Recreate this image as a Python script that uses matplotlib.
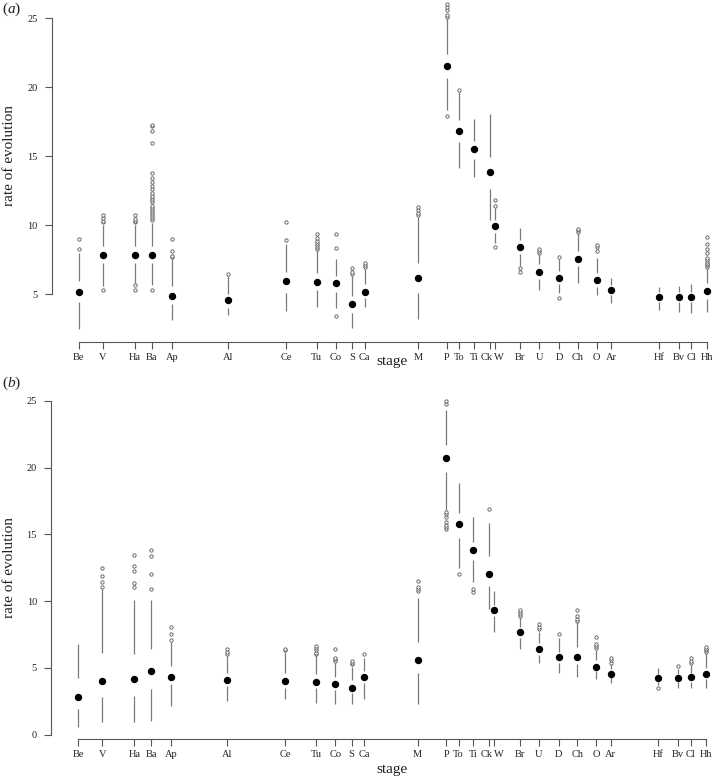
import numpy as np
import matplotlib
matplotlib.use("Agg")
import matplotlib.pyplot as plt
from matplotlib.transforms import ScaledTranslation

plt.rcParams['font.family'] = ['Liberation Serif', 'DejaVu Serif']
plt.rcParams['mathtext.fontset'] = 'custom'
plt.rcParams['mathtext.it'] = 'Liberation Serif:italic'
plt.rcParams['mathtext.rm'] = 'Liberation Serif'

# stages and their position along the time axis (arbitrary units, oldest left)
stages = ["Be", "V", "Ha", "Ba", "Ap", "Al", "Ce", "Tu", "Co", "S", "Ca", "M", "P", "To",
          "Ti", "Ck", "W", "Br", "U", "D", "Ch", "O", "Ar", "Hf", "Bv", "Cl", "Hh"]
stage_pos = [0, 24.3, 56.3, 73, 93.3, 149.3, 207.3, 238, 257.3, 273.6, 286, 339.6, 368.3, 380.6,
             395.3, 411.3, 416, 441.6, 460.6, 480.6, 499.3, 518, 532.6, 580.3, 600.3, 612.6, 628]

# panel (a): whisker low, lower quartile, median, upper quartile, whisker high, outliers
a_lo = [2.5, 5.58, 5.82, 5.65, 3.10, 3.48, 3.77, 4.06, 4.01, 2.55, 4.09, 3.17, 18.36, 14.15,
        13.47, 10.35, 8.72, 7.03, 5.27, 5.1, 5.77, 4.9, 4.33, 3.84, 3.73, 3.65, 3.7]
a_q1 = [4.42, 7.22, 7.22, 7.22, 4.25, 4.01, 5.1, 5.29, 5.15, 3.65, 4.74, 5.1, 20.66, 16.0,
        14.82, 12.65, 9.44, 7.92, 6.06, 5.7, 7.03, 5.53, 4.9, 4.42, 4.42, 4.42, 4.67]
a_med = [5.15, 7.85, 7.85, 7.85, 4.86, 4.54, 5.92, 5.9, 5.8, 4.25, 5.15, 6.14, 21.5, 16.82,
         15.54, 13.83, 9.92, 8.43, 6.62, 6.16, 7.58, 5.99, 5.27, 4.79, 4.79, 4.79, 5.22]
a_q3 = [5.94, 8.47, 8.47, 8.47, 5.58, 5.03, 6.59, 6.5, 6.3, 4.86, 5.7, 7.27, 22.42, 17.59,
        16.07, 14.92, 10.4, 8.91, 7.15, 6.66, 8.11, 6.5, 5.65, 5.15, 5.15, 5.15, 5.77]
a_hi = [8.0, 10.04, 10.04, 10.16, 7.56, 6.3, 8.6, 8.18, 7.58, 6.3, 6.84, 10.6, 25.0, 19.64,
        17.71, 18.08, 11.25, 9.8, 7.87, 7.51, 9.44, 7.63, 6.18, 5.53, 5.58, 5.75, 6.91]
a_out = [
    [8.28, 8.96],
    [5.32, 10.21, 10.33, 10.53, 10.77],
    [5.32, 5.65, 10.2, 10.33, 10.48, 10.77],
    [5.32, 10.35, 10.5, 10.65, 10.84, 10.95, 11.13, 11.25, 11.37, 11.66, 11.8, 11.95, 12.09,
     12.3, 12.63, 12.86, 13.15, 13.42, 13.78, 15.96, 16.8, 17.16, 17.28],
    [7.66, 7.75, 8.11, 9.0],
    [6.43],
    [8.89, 10.21],
    [8.28, 8.4, 8.55, 8.7, 8.85, 9.08, 9.39],
    [3.41, 8.31, 9.39],
    [6.45, 6.59, 6.91],
    [6.98, 7.1, 7.22],
    [10.72, 10.9, 11.1, 11.32],
    [17.88, 25.12, 25.24, 25.6, 25.8, 26.04],
    [19.81],
    [],
    [],
    [8.43, 11.42, 11.85],
    [6.59, 6.91],
    [7.99, 8.13, 8.28],
    [4.69, 7.71],
    [9.51, 9.62, 9.73],
    [8.11, 8.43, 8.55],
    [],
    [],
    [],
    [],
    [6.98, 7.1, 7.2, 7.35, 7.5, 7.65, 7.99, 8.28, 8.65, 9.15],
]

# panel (b)
b_lo = [0.60, 0.95, 0.95, 1.05, 2.15, 2.54, 2.64, 2.40, 2.32, 2.30, 2.64, 2.27, 16.82, 12.45,
        11.45, 9.38, 7.66, 6.41, 5.39, 4.64, 4.29, 4.17, 3.84, 3.72, 3.47, 3.47, 3.52]
b_q1 = [1.90, 2.79, 2.92, 3.42, 3.77, 3.64, 3.47, 3.52, 3.34, 3.09, 3.84, 4.59, 19.69, 14.75,
        13.07, 11.13, 8.88, 7.21, 5.96, 5.39, 5.29, 4.77, 4.29, 3.92, 3.92, 3.92, 4.14]
b_med = [2.84, 4.02, 4.17, 4.77, 4.34, 4.07, 4.02, 3.97, 3.82, 3.52, 4.29, 5.59, 20.68, 15.74,
         13.80, 12.0, 9.31, 7.66, 6.41, 5.84, 5.81, 5.09, 4.57, 4.24, 4.24, 4.32, 4.52]
b_q3 = [4.22, 6.09, 6.01, 6.39, 5.14, 4.59, 4.64, 4.54, 4.34, 4.09, 4.77, 6.96, 21.68, 16.57,
        14.45, 13.40, 9.71, 8.08, 6.84, 6.21, 6.59, 5.59, 4.89, 4.54, 4.54, 4.64, 4.97]
b_hi = [6.79, 10.88, 10.08, 10.08, 6.9, 5.91, 6.21, 5.96, 5.39, 5.09, 5.76, 10.25, 24.3, 18.81,
        16.32, 15.82, 10.75, 8.83, 7.71, 7.21, 8.41, 6.34, 5.29, 5.01, 4.92, 5.21, 6.09]
b_out = [
    [],
    [11.08, 11.45, 11.88, 12.5],
    [11.03, 11.38, 12.25, 12.65, 13.45],
    [10.9, 12.05, 13.37, 13.82],
    [7.12, 7.5, 8.06],
    [6.01, 6.2, 6.39],
    [6.3, 6.39],
    [6.04, 6.14, 6.3, 6.5, 6.66],
    [5.51, 5.64, 5.76, 6.44],
    [5.26, 5.38, 5.51],
    [6.04],
    [10.75, 10.92, 11.08, 11.53],
    [15.39, 15.57, 15.72, 15.89, 16.32, 16.5, 16.69, 24.73, 24.97],
    [12.0],
    [10.7, 10.9],
    [16.87],
    [],
    [8.88, 9.01, 9.15, 9.31],
    [7.91, 8.05, 8.28],
    [7.53],
    [8.51, 8.63, 8.88, 9.33],
    [6.46, 6.6, 6.79, 7.34],
    [5.39, 5.55, 5.71],
    [3.47],
    [5.14],
    [5.34, 5.52, 5.71],
    [6.16, 6.3, 6.42, 6.54],
]

W, H = 713, 777
fig = plt.figure(figsize=(W / 100, H / 100), dpi=100)

line_col = '#7a7a7a'
out_col = '#555555'
# labels that sit too close together get nudged sideways (inches)
label_nudge = {"Ck": -0.03, "W": 0.045}


def px_rect(left, top, bottom, width):
    # figure fraction rectangle from pixel coords
    return [left / W, 1 - bottom / H, width / W, (bottom - top) / H]


def tufte_panel(ax, lo, q1, med, q3, hi, outs, ylim, yticks):
    x = np.array(stage_pos)
    ax.vlines(x, lo, q1, color=line_col, lw=0.9)
    ax.vlines(x, q3, hi, color=line_col, lw=0.9)
    ax.plot(x, med, 'o', color='black', ms=4.3, mec='black', clip_on=False)
    for xi, o in zip(x, outs):
        if o:
            ax.plot([xi] * len(o), o, 'o', ms=2.4, mfc='white', mec=out_col, mew=0.6,
                    clip_on=False)
    span = x[-1] - x[0]
    ax.set_xlim(x[0] - 0.04 * span, x[-1] + 0.04 * span)
    ax.set_ylim(*ylim)
    ax.set_xticks(x, stages)
    ax.set_yticks(yticks)
    for s in ['top', 'right']:
        ax.spines[s].set_visible(False)
    ax.spines['left'].set_bounds(yticks[0], yticks[-1])
    ax.spines['bottom'].set_bounds(x[0], x[-1])
    ax.spines['left'].set_position(('outward', 1.5))
    for s in ['left', 'bottom']:
        ax.spines[s].set_color('#555555')
        ax.spines[s].set_linewidth(0.8)
    ax.tick_params(axis='both', length=5, width=0.8, color='#555555', labelsize=7.5,
                   labelcolor='#222222')
    ax.tick_params(axis='x', pad=3.0)
    ax.tick_params(axis='y', pad=5.0)
    for lab in ax.get_xticklabels():
        dx = label_nudge.get(lab.get_text())
        if dx:
            lab.set_transform(lab.get_transform() + ScaledTranslation(dx, 0, fig.dpi_scale_trans))
    ax.patch.set_alpha(0)


ax_a = fig.add_axes(px_rect(53.6, -9.1, 341.7, 678.2))
tufte_panel(ax_a, a_lo, a_q1, a_med, a_q3, a_hi, a_out, (1.55, 26.98), [5, 10, 15, 20, 25])

ax_b = fig.add_axes(px_rect(52.9, 388.7, 739.3, 678.2))
tufte_panel(ax_b, b_lo, b_q1, b_med, b_q3, b_hi, b_out, (-0.35, 25.9), [0, 5, 10, 15, 20, 25])

lab = dict(fontsize=11, color='#222222')
fig.text(10 / W, 1 - 155 / H, 'rate of evolution', rotation=90, ha='center', va='center', **lab)
fig.text(10 / W, 1 - 567 / H, 'rate of evolution', rotation=90, ha='center', va='center', **lab)
fig.text(392 / W, 1 - 362 / H, 'stage', ha='center', va='center', **lab)
fig.text(392 / W, 1 - 769 / H, 'stage', ha='center', va='center', **lab)
fig.text(12 / W, 1 - 9 / H, r'($\it{a}$)', ha='center', va='center', **lab)
fig.text(12 / W, 1 - 383 / H, r'($\it{b}$)', ha='center', va='center', **lab)

fig.savefig('out.png', dpi=100)
